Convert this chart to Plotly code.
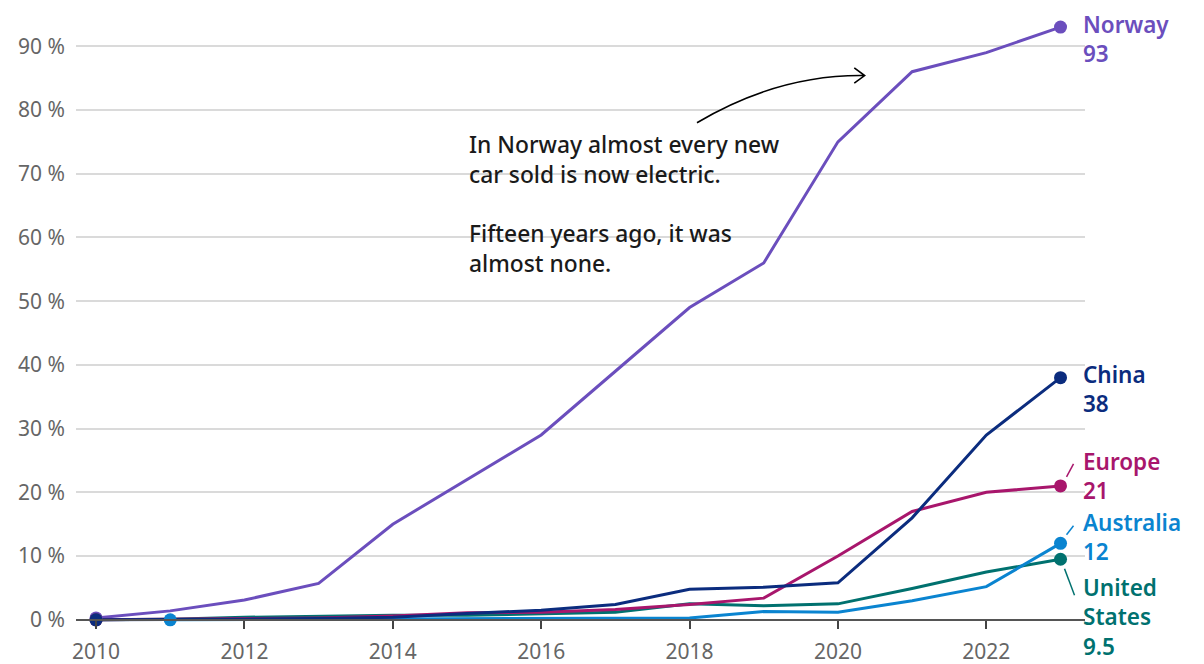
import plotly.graph_objects as go

years = list(range(2010, 2024))
norway = [0.3, 1.4, 3.1, 5.7, 15, 22, 29, 39, 49, 56, 75, 86, 89, 93]
china = [0, 0.02, 0.1, 0.2, 0.4, 1.0, 1.5, 2.4, 4.8, 5.1, 5.8, 16, 29, 38]
europe = [0, 0.1, 0.2, 0.3, 0.6, 1.1, 1.2, 1.6, 2.4, 3.4, 10, 17, 20, 21]
aus_years = list(range(2011, 2024))
australia = [0, 0.03, 0.1, 0.15, 0.2, 0.2, 0.2, 0.3, 1.3, 1.2, 3.0, 5.2, 12]
usa = [0, 0.1, 0.4, 0.6, 0.7, 0.7, 0.9, 1.2, 2.5, 2.2, 2.5, 4.9, 7.5, 9.5]

names = ["Norway", "United States", "Europe", "Australia", "China"]
label_names = {"Norway": "Norway", "United States": "United<br>States",
               "Europe": "Europe", "Australia": "Australia", "China": "China"}
value_labels = ["93", "9.5", "21", "12", "38"]
colors = {"Norway": "#6B4EBD", "China": "#0B2C7E", "Europe": "#A8166C",
          "Australia": "#0A84D0", "United States": "#00716F"}
series = {"Norway": (years, norway), "United States": (years, usa),
          "Europe": (years, europe), "Australia": (aus_years, australia),
          "China": (years, china)}

ytick_vals = [0, 10, 20, 30, 40, 50, 60, 70, 80, 90]
ytick_text = [f"{v} %" for v in ytick_vals]
xtick_vals = [2010, 2012, 2014, 2016, 2018, 2020, 2022]

FONT = "Noto Sans"
YMIN, YMAX = -1.6, 96

fig = go.Figure()
for n in names:
    xs, ys = series[n]
    fig.add_trace(go.Scatter(
        x=xs, y=ys, mode="lines", name=n,
        line=dict(color=colors[n], width=3),
        hoverinfo="skip", showlegend=False))
for n in names:
    xs, ys = series[n]
    fig.add_trace(go.Scatter(
        x=[xs[0], xs[-1]], y=[ys[0], ys[-1]], mode="markers", name=n,
        marker=dict(size=13, color=colors[n], opacity=1, line=dict(width=0)),
        cliponaxis=False, hoverinfo="skip", showlegend=False))

# end labels: vertical shift (px) of the label block relative to the end point
label_shift = {"Norway": -12, "China": -11, "Europe": 10, "Australia": 6.5,
               "United States": -58}
for n, v in zip(names, value_labels):
    xs, ys = series[n]
    fig.add_annotation(x=xs[-1], y=ys[-1], text=f"{label_names[n]}<br>{v}",
                       showarrow=False, align="left",
                       xanchor="left", yanchor="middle", xshift=20, yshift=label_shift[n],
                       font=dict(family=FONT, size=22.5, color=colors[n], weight=600))

# leader lines (pixel offsets converted through axis scale)
PX_X = 74.2
PX_Y = 6.37
leaders = {"Europe": ((6, 9), (13, 22)), "Australia": ((6, 8.5), (13, 17.5)),
           "United States": ((4, -9.5), (14, -36))}
for n, ((dx0, dy0), (dx1, dy1)) in leaders.items():
    xs, ys = series[n]
    fig.add_shape(type="line", x0=xs[-1] + dx0 / PX_X, y0=ys[-1] + dy0 / PX_Y,
                  x1=xs[-1] + dx1 / PX_X, y1=ys[-1] + dy1 / PX_Y,
                  line=dict(color=colors[n], width=1.5), layer="above")

# commentary
fig.add_annotation(x=2015.0, y=65.2, xanchor="left", yanchor="middle", showarrow=False,
                   align="left",
                   text="In Norway almost every new<br>car sold is now electric.<br><br>"
                        "Fifteen years ago, it was<br>almost none.",
                   font=dict(family=FONT, size=22.8, color="#1a1a1a", weight=500))
fig.add_shape(type="path",
              path="M 2018.10,78.0 Q 2019.20,85.6 2020.36,85.4 "
                   "M 2020.22,86.6 L 2020.36,85.4 L 2020.22,84.2",
              line=dict(color="black", width=1.6), layer="above")

fig.update_layout(
    width=1204, height=664,
    margin=dict(l=76, r=119, t=8, b=34),
    plot_bgcolor="white", paper_bgcolor="white",
    font=dict(family=FONT),
    xaxis=dict(range=[2009.73, 2023.33], tickvals=xtick_vals, ticks="outside",
               ticklen=8, tickwidth=2, tickcolor="#444", showline=True,
               linecolor="#555", linewidth=2, showgrid=False, zeroline=False,
               anchor="free", position=(0 - YMIN) / (YMAX - YMIN),
               ticklabelstandoff=5, automargin=False,
               tickfont=dict(family=FONT, size=21, color="#666")),
    yaxis=dict(range=[YMIN, YMAX], tickvals=ytick_vals, ticktext=ytick_text,
               showgrid=True, gridcolor="#dadada", gridwidth=1.5, zeroline=False,
               showline=False, ticks="", ticklabelstandoff=10, automargin=False,
               tickfont=dict(family=FONT, size=21, color="#666")),
)

fig.write_html("out.html")
